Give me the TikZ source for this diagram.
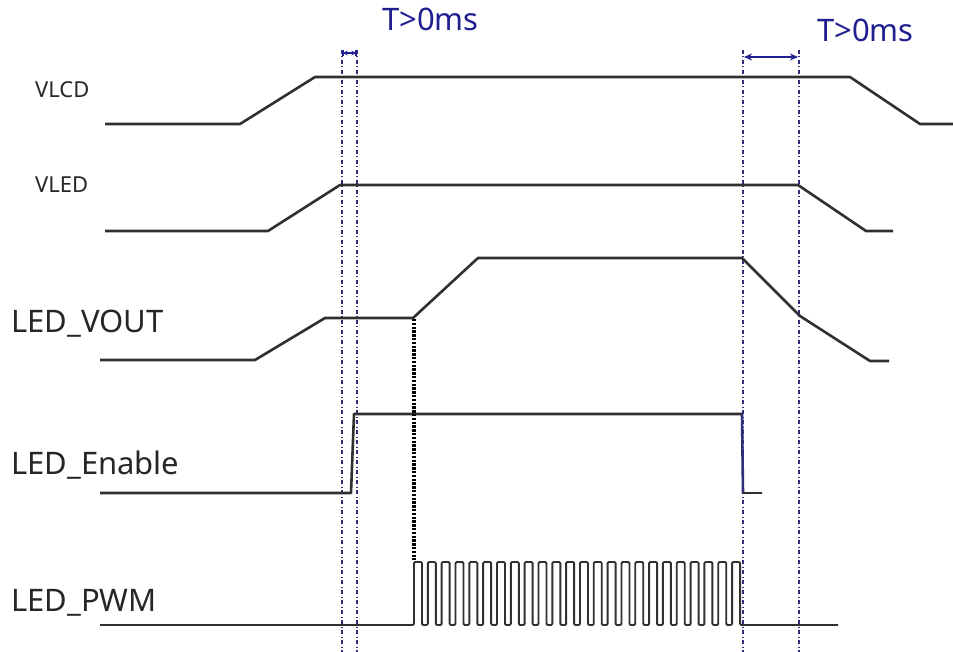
\documentclass[tikz,border=0pt]{standalone}
\usepackage{fontspec}
\setmainfont{Noto Sans}
\usetikzlibrary{arrows.meta}
\definecolor{sig}{HTML}{303030}
\definecolor{navy}{HTML}{1F1F8F}
\definecolor{guide}{HTML}{2E2E7A}
\tikzset{
  signal/.style={draw=sig, line width=2.6pt, line join=round},
  pwmline/.style={draw=sig, line width=1.9pt, line join=round, rounded corners=1.2pt},
  guideline/.style={draw=guide, line width=1.2pt, dash pattern=on 4pt off 2.5pt on 1pt off 2.5pt},
  timearrow/.style={draw=navy, line width=1.6pt, {Stealth[length=8pt,width=7pt]}-{Stealth[length=8pt,width=7pt]}},
  smallarrow/.style={draw=navy, line width=1.6pt, {Bar[width=6pt]Stealth[length=4pt,width=5pt]}-{Stealth[length=4pt,width=5pt]Bar[width=6pt]}},
  siglabel/.style={anchor=base west, inner sep=0pt, text=black!85},
  tlabel/.style={anchor=base west, inner sep=0pt, text=navy, font=\fontsize{31}{36}\selectfont},
}
\begin{document}
\begin{tikzpicture}[x=1pt,y=-1pt]
\useasboundingbox (0,0) rectangle (953,652);
\fill[white] (0,0) rectangle (953,652);

% guide lines
\draw[guideline] (342,50) -- (342,652);
\draw[guideline] (357,50) -- (357,652);
\draw[guideline] (743,50) -- (743,652);
\draw[guideline] (799,50) -- (799,652);

% time arrows
\coordinate (a1) at (342,53);
\coordinate (a2) at (357,53);
\coordinate (b1) at (744,57);
\coordinate (b2) at (798,57);
\draw[smallarrow] (a1) -- (a2);
\draw[timearrow] (b1) -- (b2);

\node[tlabel] (t1) at (382,31) {T>0ms};
\node[tlabel] (t2) at (817,42) {T>0ms};

% labels
\node[siglabel, font=\fontsize{22}{26}\selectfont] (lvlcd) at (35,98) {VLCD};
\node[siglabel, font=\fontsize{22}{26}\selectfont] (lvled) at (35,193) {VLED};
\node[siglabel, font=\fontsize{31}{36}\selectfont] (lvout) at (11,332) {LED\_VOUT};
\node[siglabel, font=\fontsize{31}{36}\selectfont] (len) at (11,474) {LED\_Enable};
\node[siglabel, font=\fontsize{31}{36}\selectfont] (lpwm) at (11,611) {LED\_PWM};

% VLCD
\draw[signal] (105,124) -- (240,124) -- (315,77) -- (850,77) -- (920,124) -- (953,124);
% VLED
\draw[signal] (105,231) -- (268,231) -- (340,185) -- (798,185) -- (866,231) -- (893,231);
% LED_VOUT
\draw[signal] (100,360) -- (255,360) -- (325,318) -- (413,318) -- (478,258) -- (742,258) -- (800,316) -- (870,361) -- (889,361);
% LED_Enable
\draw[signal] (100,493) -- (351,493) -- (354,414) -- (742,414);
\draw[draw=guide, line width=2.6pt] (742,414) -- (743,493);
\draw[signal] (743,493) -- (762,493);

% thick dotted transition
\draw[draw=black, line width=3.6pt, dash pattern=on 2.4pt off 1.4pt] (414,319) -- (414,560);

% LED_PWM
\draw[pwmline] (100,625) -- (414,625)
  \foreach \i in {0,...,23} {
    -- ({414+\i*13.83},625) -- ({414+\i*13.83},562) -- ({422+\i*13.83},562) -- ({422+\i*13.83},625)
  } -- (838,625);
\end{tikzpicture}
\end{document}
